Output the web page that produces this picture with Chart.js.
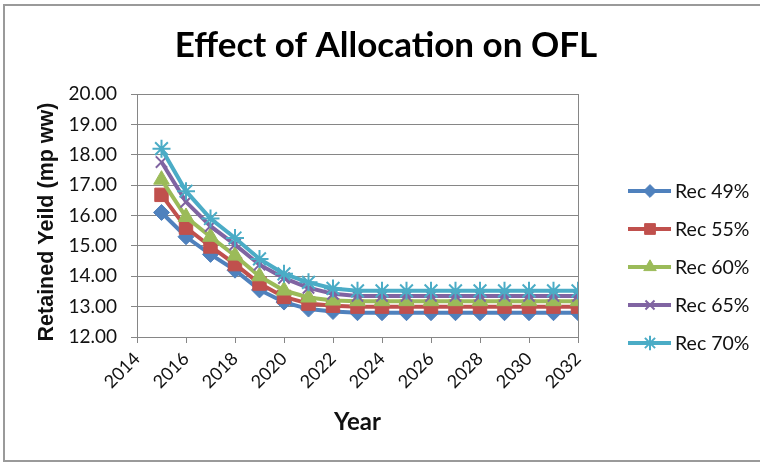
<!DOCTYPE html>
<html>
<head>
<meta charset="utf-8">
<script src="https://cdn.jsdelivr.net/npm/chart.js@4.4.1/dist/chart.umd.min.js"></script>
<style>
  html, body { margin: 0; padding: 0; background: #fff; }
  #wrap { width: 760px; height: 464px; position: relative; }
</style>
</head>
<body>
<div id="wrap"><canvas id="c" width="760" height="464"></canvas></div>
<script>
const years = [2015, 2016, 2017, 2018, 2019, 2020, 2021, 2022, 2023, 2024, 2025, 2026, 2027, 2028, 2029, 2030, 2031, 2032];
const rec49 = [16.10, 15.30, 14.72, 14.20, 13.55, 13.15, 12.92, 12.84, 12.80, 12.80, 12.80, 12.80, 12.80, 12.80, 12.80, 12.80, 12.80, 12.80];
const rec55 = [16.68, 15.60, 14.98, 14.40, 13.76, 13.32, 13.10, 13.03, 13.00, 13.00, 13.00, 13.00, 13.00, 13.00, 13.00, 13.00, 13.00, 13.00];
const rec60 = [17.18, 15.95, 15.30, 14.68, 14.00, 13.53, 13.30, 13.20, 13.18, 13.18, 13.18, 13.18, 13.18, 13.18, 13.18, 13.18, 13.18, 13.18];
const rec65 = [17.76, 16.45, 15.65, 15.04, 14.38, 13.94, 13.62, 13.42, 13.35, 13.35, 13.35, 13.35, 13.35, 13.35, 13.35, 13.35, 13.35, 13.35];
const rec70 = [18.20, 16.80, 15.90, 15.26, 14.57, 14.08, 13.80, 13.60, 13.52, 13.52, 13.52, 13.52, 13.52, 13.52, 13.52, 13.52, 13.52, 13.52];
const seriesNames = ['Rec 49%', 'Rec 55%', 'Rec 60%', 'Rec 65%', 'Rec 70%'];
const xTickLabels = ['2014', '2016', '2018', '2020', '2022', '2024', '2026', '2028', '2030', '2032'];
const yTickLabels = ['12.00', '13.00', '14.00', '15.00', '16.00', '17.00', '18.00', '19.00', '20.00'];
const chartTitle = 'Effect of Allocation on OFL';
const xTitle = 'Year';
const yTitle = 'Retained Yeild (mp ww)';

const FONT = 'Lato, "Open Sans", sans-serif';
const YFONT = '"Liberation Sans", Arial, sans-serif';
const colors = ['#4F81BD', '#C0504D', '#9BBB59', '#8064A2', '#4BACC6'];
const styles = [
  { pointStyle: 'rectRot', radius: 8, bw: 1 },
  { pointStyle: 'rect', radius: 9.5, bw: 1 },
  { pointStyle: 'triangle', radius: 9, bw: 1 },
  { pointStyle: 'crossRot', radius: 8, bw: 2 },
  { pointStyle: 'star', radius: 9, bw: 2 }
];
const allSeries = [rec49, rec55, rec60, rec65, rec70];

const datasets = allSeries.map((vals, i) => ({
  label: seriesNames[i],
  data: years.map((y, k) => ({ x: y, y: vals[k] })),
  borderColor: colors[i],
  backgroundColor: colors[i],
  borderWidth: 4,
  pointStyle: styles[i].pointStyle,
  pointRadius: styles[i].radius,
  pointBorderWidth: styles[i].bw,
  pointBackgroundColor: colors[i],
  pointBorderColor: colors[i],
  tension: 0,
  order: 4 - i
}));

const framePlugin = {
  id: 'frame',
  beforeDraw(chart) {
    const ctx = chart.ctx;
    ctx.save();
    ctx.fillStyle = '#ffffff';
    ctx.fillRect(0, 0, chart.width, chart.height);
    ctx.strokeStyle = '#9a9a9a';
    ctx.lineWidth = 2;
    ctx.strokeRect(4, 5, 800, 456);
    ctx.restore();
  },
  beforeDatasetsDraw(chart) {
    const a = chart.chartArea;
    const ctx = chart.ctx;
    ctx.save();
    ctx.strokeStyle = '#868686';
    ctx.lineWidth = 1;
    ctx.strokeRect(Math.round(a.left) + 0.5, Math.round(a.top) + 0.5, Math.round(a.right - a.left), Math.round(a.bottom - a.top));
    ctx.restore();
  },
  afterDraw(chart) {
    const ctx = chart.ctx;
    ctx.save();
    // title
    ctx.fillStyle = '#000';
    ctx.font = 'bold 35px ' + FONT;
    ctx.textAlign = 'center';
    ctx.textBaseline = 'middle';
    ctx.fillText(chartTitle, 386, 46);
    // y axis title
    ctx.save();
    ctx.translate(47, 222);
    ctx.rotate(-Math.PI / 2);
    ctx.font = 'bold 21.5px ' + YFONT;
    ctx.fillStyle = '#111';
    ctx.textAlign = 'center';
    ctx.textBaseline = 'middle';
    ctx.fillText(yTitle, 0, 0);
    ctx.restore();
    // legend
    for (let i = 0; i < seriesNames.length; i++) {
      const y = 191 + i * 38;
      ctx.strokeStyle = colors[i];
      ctx.lineWidth = 4;
      ctx.beginPath();
      ctx.moveTo(628, y);
      ctx.lineTo(671, y);
      ctx.stroke();
      ctx.fillStyle = colors[i];
      ctx.strokeStyle = colors[i];
      ctx.lineWidth = styles[i].bw;
      Chart.helpers.drawPoint(ctx, {
        pointStyle: styles[i].pointStyle,
        radius: styles[i].radius * 0.8,
        borderWidth: styles[i].bw,
        rotation: 0
      }, 650, y);
      ctx.fillStyle = '#111';
      ctx.font = '19.5px ' + FONT;
      ctx.textAlign = 'left';
      ctx.textBaseline = 'middle';
      ctx.fillText(seriesNames[i], 675, y + 1);
    }
    ctx.restore();
  }
};

new Chart(document.getElementById('c'), {
  type: 'line',
  data: { datasets },
  options: {
    responsive: false,
    animation: false,
    devicePixelRatio: 1,
    layout: { padding: { left: 32, top: 94, right: 182, bottom: 27 } },
    plugins: { legend: { display: false }, title: { display: false }, tooltip: { enabled: false } },
    scales: {
      x: {
        type: 'linear',
        min: 2014,
        max: 2032,
        afterFit(s) { s.height = 100; },
        afterBuildTicks(s) { s.ticks = xTickLabels.map(t => ({ value: Number(t) })); },
        ticks: {
          stepSize: 2,
          minRotation: 45,
          maxRotation: 45,
          padding: 5,
          color: '#111',
          font: { family: FONT, size: 18 },
          callback: (v) => xTickLabels[xTickLabels.indexOf(String(v))]
        },
        grid: { drawOnChartArea: false, drawTicks: true, tickLength: 6, color: '#868686' },
        border: { color: '#868686', width: 1 },
        title: { display: true, text: xTitle, color: '#111', font: { family: FONT, size: 24, weight: 'bold' }, padding: { top: 0, bottom: 0 } }
      },
      y: {
        min: 12,
        max: 20,
        afterFit(s) { s.width = 105; },
        afterBuildTicks(s) { s.ticks = yTickLabels.map(t => ({ value: Number(t) })); },
        ticks: {
          stepSize: 1,
          padding: 14,
          color: '#111',
          font: { family: FONT, size: 19 },
          callback: (v) => yTickLabels[yTickLabels.indexOf(Number(v).toFixed(2))]
        },
        grid: { color: '#868686', drawTicks: true, tickLength: 6 },
        border: { color: '#868686', width: 1 }
      }
    }
  },
  plugins: [framePlugin]
});
</script>
</body>
</html>
